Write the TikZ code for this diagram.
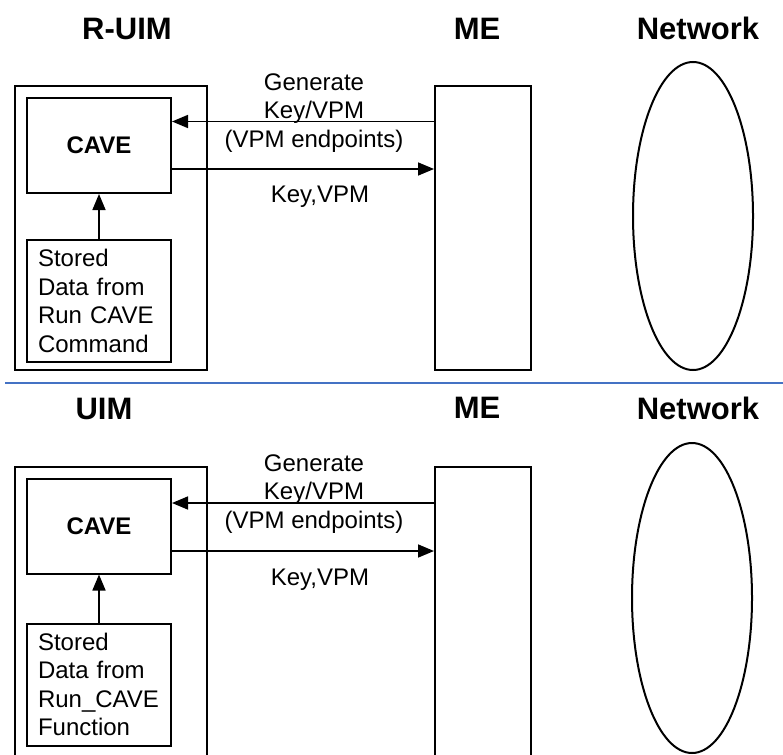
\documentclass[tikz,border=0pt]{standalone}
\usepackage{fontspec}
\setmainfont{Liberation Sans}
\usetikzlibrary{arrows.meta,shapes.geometric,calc}
\definecolor{sepblue}{RGB}{68,114,196}
\begin{document}
\begin{tikzpicture}[x=1pt,y=-1pt,
  frame/.style={draw, line width=2pt, inner sep=0pt},
  cavebox/.style={draw, line width=2pt, minimum width=144pt, minimum height=95pt, inner sep=0pt, font=\fontsize{24}{28}\selectfont\bfseries},
  storebox/.style={draw, line width=2pt, text width=122pt, inner xsep=11pt, inner ysep=0pt, minimum height=122pt, align=left, font=\fontsize{24}{28.5}\selectfont},
  title/.style={font=\fontsize{31}{36}\selectfont\bfseries, inner sep=0pt},
  lbl/.style={font=\fontsize{24}{28.5}\selectfont, align=center, inner sep=0pt},
  arr/.style={line width=1.6pt, -{Triangle[length=16pt,width=13pt]}},
  netell/.style={draw, ellipse, line width=2pt, minimum width=120pt, minimum height=308pt, inner sep=0pt}]
\useasboundingbox (0,0) rectangle (783,754);
\clip (0,0) rectangle (783,754);

% ---------- top panel ----------
\node[title] (t1ruim) at (127,28.5) {R-UIM};
\node[title] (t1me)   at (477,28.5) {ME};
\node[title] (t1net)  at (698,28.5) {Network};

\node[frame, minimum width=192pt, minimum height=284pt] (ruim) at (111,228) {};
\node[cavebox] (cave1) at (99,145.5) {CAVE};
\node[storebox] (stored1) at (99,301) {Stored\\Data from\\Run CAVE\\Command};
\node[frame, minimum width=96pt, minimum height=284pt] (me1) at (483,228) {};
\node[netell] (net1) at (693,216) {};

\draw[arr] (stored1.north) -- (cave1.south);
\path ([yshift=24pt]cave1.east) coordinate (g1);
\path ([yshift=-23.5pt]cave1.east) coordinate (k1);
\draw[arr] (me1.west |- g1) -- (g1);
\draw[arr] (k1) -- (me1.west |- k1);
\node[lbl] (lg1) at (314,113) {Generate\\Key/VPM\\(VPM endpoints)};
\node[lbl] (lk1) at (320,197) {Key,VPM};

% ---------- separator ----------
\coordinate (sepL) at (5,383);
\coordinate (sepR) at (783,383);
\draw[sepblue, line width=2pt] (sepL) -- (sepR);

% ---------- bottom panel ----------
\node[title] (t2uim) at (104,408.5) {UIM};
\node[title] (t2me)  at (477,408) {ME};
\node[title] (t2net) at (698,408) {Network};

\node[frame, minimum width=192pt, minimum height=343pt] (uim) at (111,638.5) {};
\node[cavebox] (cave2) at (99,526) {CAVE};
\node[storebox] (stored2) at (99,684.5) {Stored\\Data from\\Run\_CAVE\\Function};
\node[frame, minimum width=96pt, minimum height=343pt] (me2) at (483,638.5) {};
\node[netell, minimum height=310pt] (net2) at (692,598) {};

\draw[arr] (stored2.north) -- (cave2.south);
\path ([yshift=23pt]cave2.east) coordinate (g2);
\path ([yshift=-25pt]cave2.east) coordinate (k2);
\draw[arr] (me2.west |- g2) -- (g2);
\draw[arr] (k2) -- (me2.west |- k2);
\node[lbl] (lg2) at (314,494) {Generate\\Key/VPM\\(VPM endpoints)};
\node[lbl] (lk2) at (320,579.5) {Key,VPM};
\end{tikzpicture}
\end{document}
